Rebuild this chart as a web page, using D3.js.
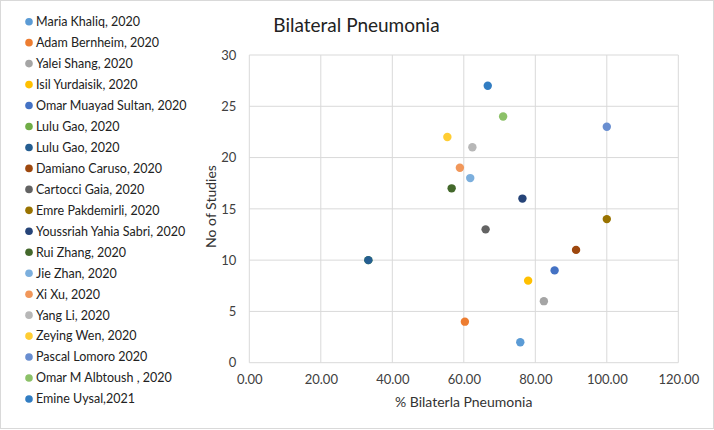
<!DOCTYPE html>
<html><head><meta charset="utf-8">
<script src="https://cdn.jsdelivr.net/npm/d3@7"></script>
<style>
html,body{margin:0;padding:0;background:#fff;}
svg{display:block;font-family:Lato, "Open Sans", sans-serif;}
</style></head>
<body>
<svg id="chart" width="714" height="430"></svg>
<script>
const names = ["Maria Khaliq, 2020","Adam Bernheim, 2020","Yalei Shang, 2020","Isil Yurdaisik, 2020","Omar Muayad Sultan, 2020","Lulu Gao, 2020","Lulu Gao, 2020","Damiano Caruso, 2020","Cartocci Gaia, 2020","Emre Pakdemirli, 2020","Youssriah Yahia Sabri, 2020","Rui Zhang, 2020","Jie Zhan, 2020","Xi Xu, 2020","Yang Li, 2020","Zeying Wen, 2020","Pascal Lomoro 2020","Omar M Albtoush , 2020","Emine Uysal,2021"];
const colors = ["#5B9BD5","#ED7D31","#A5A5A5","#FFC000","#4472C4","#70AD47","#255E91","#9E480E","#636363","#997300","#264478","#43682B","#7CAFDD","#F1975A","#B7B7B7","#FFCD33","#698ED0","#8CC168","#327DC2"];
const xValues = [75.8,60.3,82.4,78.0,85.4,33.3,33.3,91.4,66.1,100,76.4,56.6,61.8,58.9,62.4,55.4,100,71.0,66.7];
const yValues = [2,4,6,8,9,10,10,11,13,14,16,17,18,19,21,22,23,24,27];
const xTicks = [0,20,40,60,80,100,120];
const yTicks = [0,5,10,15,20,25,30];

const svg = d3.select("#chart");
svg.append("rect").attr("x",0.5).attr("y",0.5).attr("width",713).attr("height",428)
  .attr("fill","#fff").attr("stroke","#d9d9d9");

const x = d3.scaleLinear().domain([0,120]).range([249.3,678.3]);
const y = d3.scaleLinear().domain([0,30]).range([362.7,55]);

// grid
const g = svg.append("g");
g.selectAll("line.v").data(xTicks).join("line")
  .attr("x1",d=>x(d)).attr("x2",d=>x(d)).attr("y1",y(0)).attr("y2",y(30))
  .attr("stroke","#d9d9d9").attr("stroke-width",1);
g.selectAll("line.h").data(yTicks).join("line")
  .attr("x1",x(0)).attr("x2",x(120)).attr("y1",d=>y(d)).attr("y2",d=>y(d))
  .attr("stroke","#d9d9d9").attr("stroke-width",1);

// axes
const xAxis = svg.append("g").attr("transform",`translate(0,${y(0)})`)
  .call(d3.axisBottom(x).tickValues(xTicks).tickFormat(d3.format(".2f")).tickSize(0).tickPadding(12));
xAxis.select(".domain").remove();
xAxis.selectAll("text").attr("font-size",13).attr("fill","#404040").attr("font-family","Lato");

const yAxis = svg.append("g").attr("transform",`translate(${x(0)},0)`)
  .call(d3.axisLeft(y).tickValues(yTicks).tickSize(0).tickPadding(13));
yAxis.select(".domain").remove();
yAxis.selectAll("text").attr("font-size",13).attr("fill","#404040").attr("font-family","Lato");

// title
svg.append("text").attr("x",356.5).attr("y",32).attr("text-anchor","middle")
  .attr("font-size",19).attr("fill","#222").text("Bilateral Pneumonia");
svg.append("text").attr("x",463.7).attr("y",407).attr("text-anchor","middle")
  .attr("font-size",14).attr("fill","#333").text("% Bilaterla Pneumonia");
svg.append("text").attr("transform","translate(216,206.5) rotate(-90)").attr("text-anchor","middle")
  .attr("font-size",14).attr("fill","#333").text("No of Studies");

// points
const data = names.map((n,i)=>({n,c:colors[i],x:xValues[i],y:yValues[i]}));
svg.append("g").selectAll("circle").data(data).join("circle")
  .attr("cx",d=>x(d.x)).attr("cy",d=>y(d.y)).attr("r",4.2).attr("fill",d=>d.c);

// legend
const leg = svg.append("g").selectAll("g").data(data).join("g")
  .attr("transform",(d,i)=>`translate(29,${21.7+i*20.96})`);
leg.append("circle").attr("r",3.8).attr("fill",d=>d.c);
leg.append("text").attr("x",7).attr("dy","0.35em").attr("font-size",12.5).attr("fill","#222").text(d=>d.n);
</script>
</body></html>
